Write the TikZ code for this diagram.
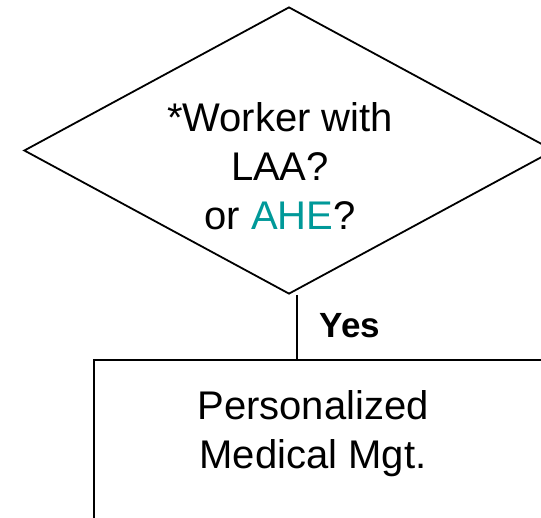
\documentclass[tikz,border=0pt]{standalone}
\usepackage{fontspec}
\setmainfont{Liberation Sans}
\usetikzlibrary{shapes.geometric}
\definecolor{tealhi}{RGB}{0,153,153}
\begin{document}
\begin{tikzpicture}[x=1pt,y=-1pt,
  decision/.style={diamond, draw, line width=1.8pt, inner sep=0pt,
    minimum width=530pt, minimum height=287pt},
  actionbox/.style={rectangle, draw, line width=2.4pt, inner sep=0pt,
    minimum width=470pt, minimum height=180pt, anchor=north west},
  bigtext/.style={font=\fontsize{40}{49}\selectfont, align=center, inner sep=0pt},
  edgelabel/.style={font=\fontsize{35}{40}\selectfont\bfseries, inner sep=0pt},
  flowline/.style={line width=1.2pt}]
\useasboundingbox (0,0) rectangle (541,517);
\clip (0,0) rectangle (541,517);

% decision diamond and its question
\node[decision] (q) at (289,150.5) {};
\node[bigtext] (qlabel) at (280,166) {*Worker with\\LAA?\\or \textcolor{tealhi}{AHE}?};

% action box below
\node[actionbox] (act) at (93,359) {};
\node[bigtext] (actlabel) at (313,434) {Personalized\\Medical Mgt.};

% connector with its label
\coordinate (stem) at ([xshift=8pt]q.south);
\draw[flowline] (stem) -- (stem |- act.north);
\node[edgelabel, anchor=base] (yes) at (350,337) {Yes};
\end{tikzpicture}
\end{document}
